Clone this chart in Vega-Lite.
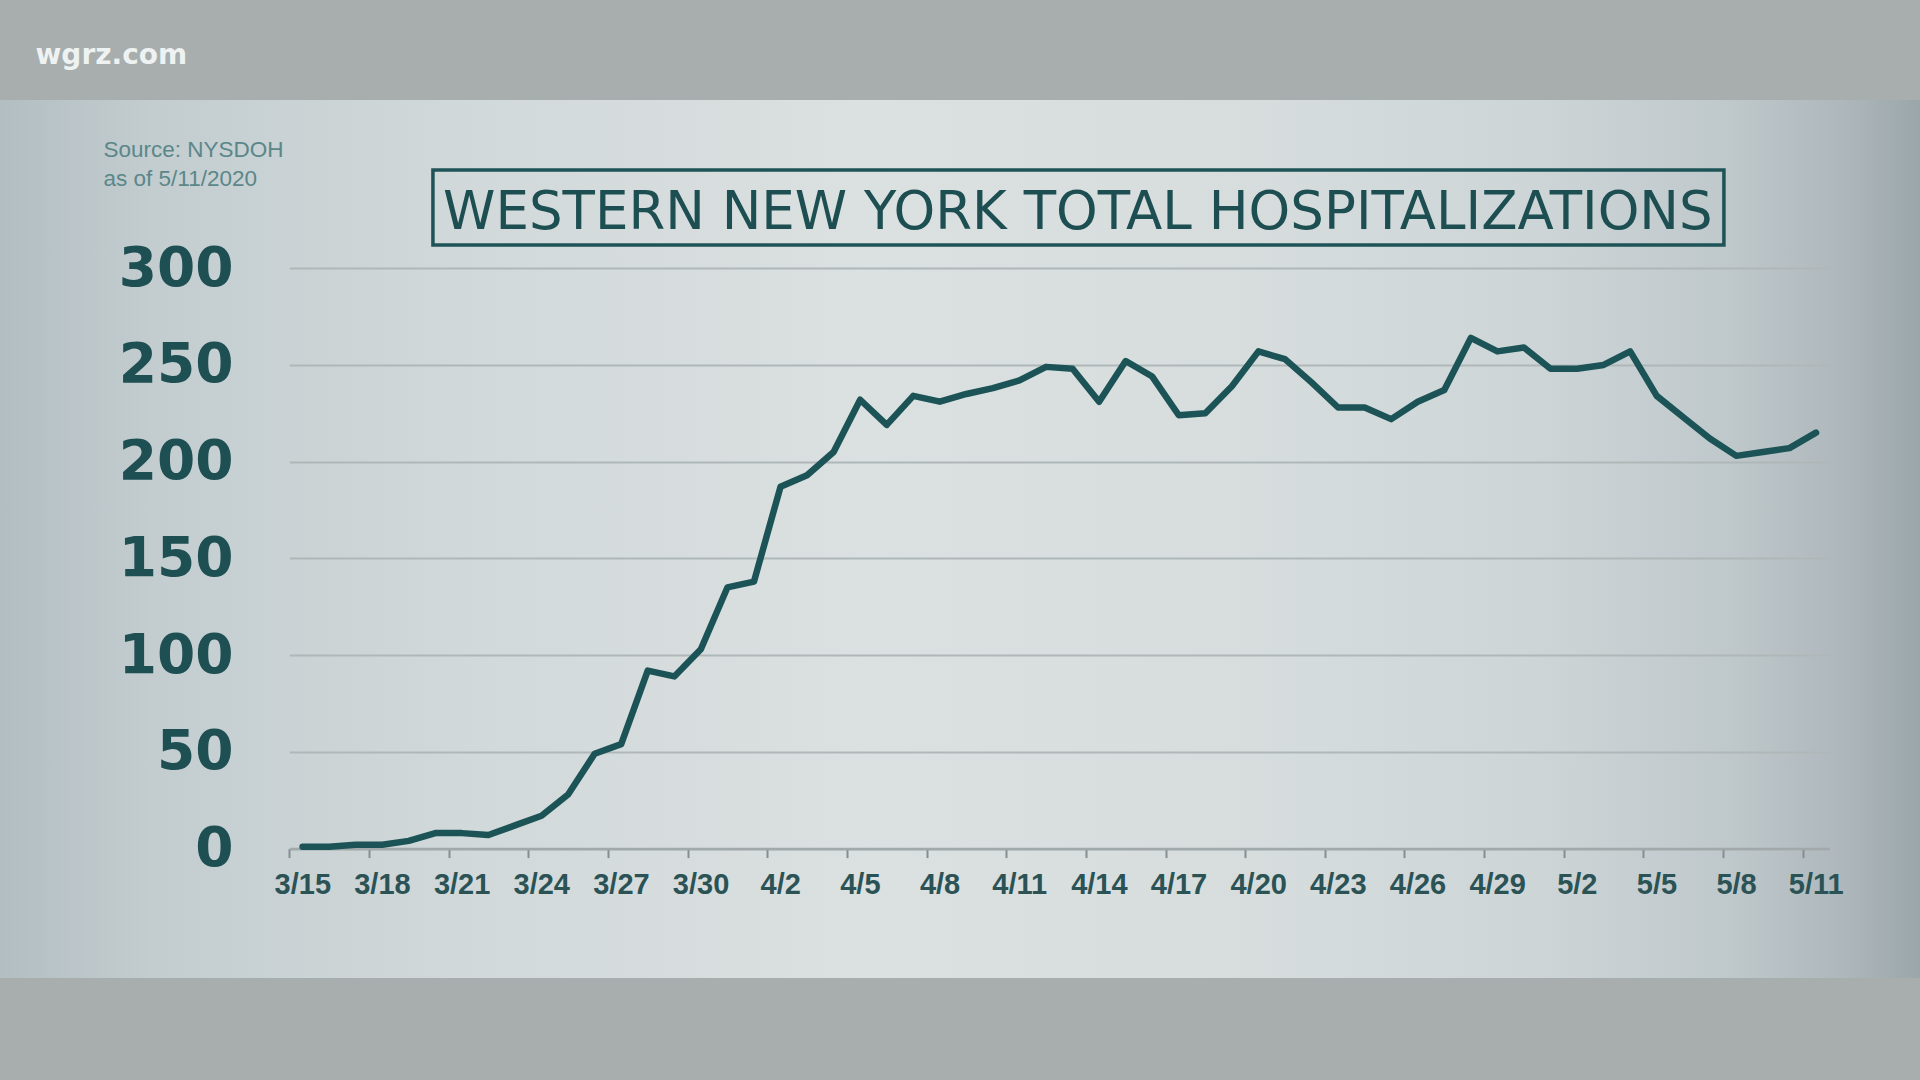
{
  "$schema": "https://vega.github.io/schema/vega-lite/v6.json",
  "width": 1920,
  "height": 878,
  "autosize": {"type": "none"},
  "padding": {"top": 100, "left": 0, "right": 0, "bottom": 102},
  "background": "#a8adad",
  "title": {
    "text": "WESTERN NEW YORK TOTAL HOSPITALIZATIONS",
    "anchor": "start",
    "frame": "group",
    "orient": "top",
    "offset": 0,
    "dx": 443,
    "dy": 241,
    "baseline": "alphabetic",
    "font": "DejaVu Sans",
    "fontSize": 53,
    "fontWeight": "normal",
    "color": "#1d4f52"
  },
  "data": {
    "values": [
      {"date": "2020-03-15", "hospitalized": 1},
      {"date": "2020-03-16", "hospitalized": 1},
      {"date": "2020-03-17", "hospitalized": 2},
      {"date": "2020-03-18", "hospitalized": 2},
      {"date": "2020-03-19", "hospitalized": 4},
      {"date": "2020-03-20", "hospitalized": 8},
      {"date": "2020-03-21", "hospitalized": 8},
      {"date": "2020-03-22", "hospitalized": 7},
      {"date": "2020-03-23", "hospitalized": 12},
      {"date": "2020-03-24", "hospitalized": 17},
      {"date": "2020-03-25", "hospitalized": 28},
      {"date": "2020-03-26", "hospitalized": 49},
      {"date": "2020-03-27", "hospitalized": 54},
      {"date": "2020-03-28", "hospitalized": 92},
      {"date": "2020-03-29", "hospitalized": 89},
      {"date": "2020-03-30", "hospitalized": 103},
      {"date": "2020-03-31", "hospitalized": 135},
      {"date": "2020-04-01", "hospitalized": 138},
      {"date": "2020-04-02", "hospitalized": 187},
      {"date": "2020-04-03", "hospitalized": 193},
      {"date": "2020-04-04", "hospitalized": 205},
      {"date": "2020-04-05", "hospitalized": 232},
      {"date": "2020-04-06", "hospitalized": 219},
      {"date": "2020-04-07", "hospitalized": 234},
      {"date": "2020-04-08", "hospitalized": 231},
      {"date": "2020-04-09", "hospitalized": 235},
      {"date": "2020-04-10", "hospitalized": 238},
      {"date": "2020-04-11", "hospitalized": 242},
      {"date": "2020-04-12", "hospitalized": 249},
      {"date": "2020-04-13", "hospitalized": 248},
      {"date": "2020-04-14", "hospitalized": 231},
      {"date": "2020-04-15", "hospitalized": 252},
      {"date": "2020-04-16", "hospitalized": 244},
      {"date": "2020-04-17", "hospitalized": 224},
      {"date": "2020-04-18", "hospitalized": 225},
      {"date": "2020-04-19", "hospitalized": 239},
      {"date": "2020-04-20", "hospitalized": 257},
      {"date": "2020-04-21", "hospitalized": 253},
      {"date": "2020-04-22", "hospitalized": 241},
      {"date": "2020-04-23", "hospitalized": 228},
      {"date": "2020-04-24", "hospitalized": 228},
      {"date": "2020-04-25", "hospitalized": 222},
      {"date": "2020-04-26", "hospitalized": 231},
      {"date": "2020-04-27", "hospitalized": 237},
      {"date": "2020-04-28", "hospitalized": 264},
      {"date": "2020-04-29", "hospitalized": 257},
      {"date": "2020-04-30", "hospitalized": 259},
      {"date": "2020-05-01", "hospitalized": 248},
      {"date": "2020-05-02", "hospitalized": 248},
      {"date": "2020-05-03", "hospitalized": 250},
      {"date": "2020-05-04", "hospitalized": 257},
      {"date": "2020-05-05", "hospitalized": 234},
      {"date": "2020-05-06", "hospitalized": 223},
      {"date": "2020-05-07", "hospitalized": 212},
      {"date": "2020-05-08", "hospitalized": 203},
      {"date": "2020-05-09", "hospitalized": 205},
      {"date": "2020-05-10", "hospitalized": 207},
      {"date": "2020-05-11", "hospitalized": 215}
    ]
  },
  "layer": [
    {
      "data": {"values": [{}]},
      "mark": {"type": "rect", "fill": null, "stroke": "#1e5457", "strokeWidth": 3.5},
      "encoding": {
        "x": {"datum": {"year": 2020, "month": 3, "date": 20, "hours": 9, "minutes": 50, "utc": true}, "type": "temporal"},
        "x2": {"datum": {"year": 2020, "month": 5, "date": 8, "hours": 0, "minutes": 45, "utc": true}},
        "y": {"datum": 350.75, "type": "quantitative"},
        "y2": {"datum": 312}
      }
    },
    {
      "mark": {"type": "line", "color": "#1b5356", "strokeWidth": 6.5, "strokeJoin": "round", "strokeCap": "round"},
      "encoding": {
        "x": {
          "field": "date",
          "type": "temporal",
          "timeUnit": "utcyearmonthdate",
          "bandPosition": 0.5,
          "scale": {
            "type": "utc",
            "domain": [{"year": 2020, "month": 3, "date": 15, "utc": true}, {"year": 2020, "month": 5, "date": 12, "utc": true}],
            "range": [289.3, 1829.3]
          },
          "axis": {
            "values": [
              {"year": 2020, "month": 3, "date": 15, "utc": true},
              {"year": 2020, "month": 3, "date": 18, "utc": true},
              {"year": 2020, "month": 3, "date": 21, "utc": true},
              {"year": 2020, "month": 3, "date": 24, "utc": true},
              {"year": 2020, "month": 3, "date": 27, "utc": true},
              {"year": 2020, "month": 3, "date": 30, "utc": true},
              {"year": 2020, "month": 4, "date": 2, "utc": true},
              {"year": 2020, "month": 4, "date": 5, "utc": true},
              {"year": 2020, "month": 4, "date": 8, "utc": true},
              {"year": 2020, "month": 4, "date": 11, "utc": true},
              {"year": 2020, "month": 4, "date": 14, "utc": true},
              {"year": 2020, "month": 4, "date": 17, "utc": true},
              {"year": 2020, "month": 4, "date": 20, "utc": true},
              {"year": 2020, "month": 4, "date": 23, "utc": true},
              {"year": 2020, "month": 4, "date": 26, "utc": true},
              {"year": 2020, "month": 4, "date": 29, "utc": true},
              {"year": 2020, "month": 5, "date": 2, "utc": true},
              {"year": 2020, "month": 5, "date": 5, "utc": true},
              {"year": 2020, "month": 5, "date": 8, "utc": true},
              {"year": 2020, "month": 5, "date": 11, "utc": true}
            ],
            "labelExpr": "utcFormat(datum.value, '%-m/%-d')",
            "offset": -129.4,
            "labelOffset": 13,
            "labelFlush": false,
            "labelOverlap": false,
            "labelBound": false,
            "labelFont": "Liberation Sans",
            "labelFontSize": 29,
            "labelFontWeight": "bold",
            "labelColor": "#2b5356",
            "labelAlign": "center",
            "labelBaseline": "alphabetic",
            "labelPadding": 36,
            "tickSize": 9,
            "tickColor": "#858e90",
            "tickWidth": 2,
            "domainColor": "#a1a9ab",
            "domainWidth": 2.5,
            "grid": false,
            "title": "wgrz.com",
            "titleX": 35,
            "titleY": -785.6,
            "titleAngle": 0,
            "titleAlign": "left",
            "titleBaseline": "alphabetic",
            "titleFont": "DejaVu Sans",
            "titleFontSize": 28,
            "titleFontWeight": "bold",
            "titleColor": "#eef2f2"
          }
        },
        "y": {
          "field": "hospitalized",
          "type": "quantitative",
          "scale": {"domain": [0, 300], "range": [748.6, 168.2], "nice": false, "zero": true},
          "axis": {
            "values": [0, 50, 100, 150, 200, 250, 300],
            "offset": -233,
            "ticks": false,
            "domain": false,
            "labelPadding": 0,
            "labelFont": "DejaVu Sans",
            "labelFontSize": 55,
            "labelFontWeight": "bold",
            "labelColor": "#1e4f52",
            "grid": true,
            "gridColor": "#b0b7b8",
            "gridWidth": 2,
            "title": ["Source: NYSDOH", "as of 5/11/2020"],
            "titleAngle": 0,
            "titleX": -130,
            "titleY": 56.7,
            "titleAlign": "left",
            "titleBaseline": "alphabetic",
            "titleFont": "Liberation Sans",
            "titleFontSize": 22.5,
            "titleFontWeight": "normal",
            "titleColor": "#5b8789",
            "titleLineHeight": 28.5
          }
        }
      }
    }
  ],
  "config": {
    "view": {
      "stroke": null,
      "fill": {
        "gradient": "linear",
        "x1": 0, "y1": 0, "x2": 1, "y2": 0,
        "stops": [
          {"offset": 0, "color": "#b3bec2"},
          {"offset": 0.08, "color": "#c3cdd0"},
          {"offset": 0.25, "color": "#d2d9da"},
          {"offset": 0.45, "color": "#dbe0e0"},
          {"offset": 0.65, "color": "#d7dddd"},
          {"offset": 0.8, "color": "#cdd5d7"},
          {"offset": 0.9, "color": "#bfc8cb"},
          {"offset": 0.96, "color": "#aeb8bc"},
          {"offset": 1, "color": "#9ba6aa"}
        ]
      }
    }
  }
}
